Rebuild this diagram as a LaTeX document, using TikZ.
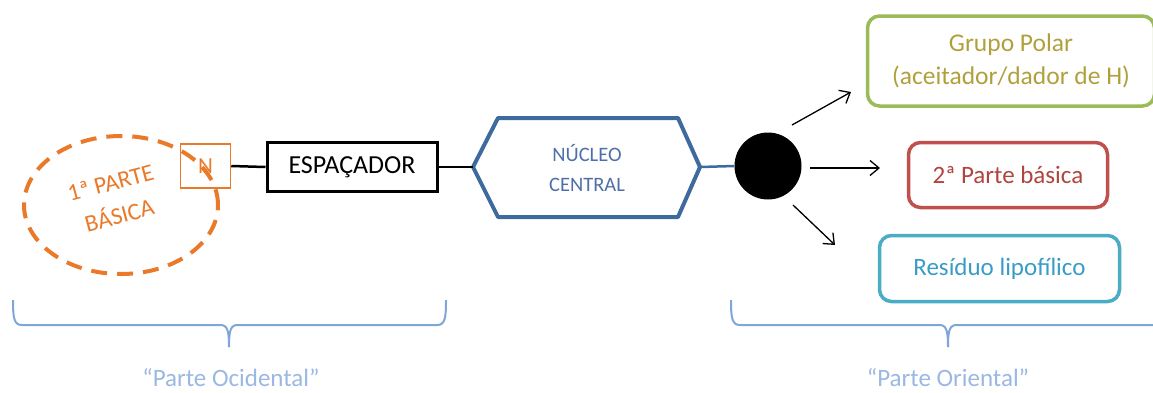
\documentclass[tikz,border=0pt]{standalone}
\usepackage{fontspec}
\setmainfont{Carlito}
\usetikzlibrary{shapes.geometric,arrows.meta}
\definecolor{orng}{HTML}{E97A2A}
\definecolor{hexblue}{HTML}{3F6A9E}
\definecolor{hextext}{HTML}{4E6FA8}
\definecolor{grn}{HTML}{9BBB59}
\definecolor{grntext}{HTML}{B0A03C}
\definecolor{rd}{HTML}{C0504D}
\definecolor{rdtext}{HTML}{B0443F}
\definecolor{cyn}{HTML}{4BACC6}
\definecolor{cyntext}{HTML}{3A9CC4}
\definecolor{brc}{HTML}{7FA6D6}
\definecolor{brctext}{HTML}{9AB8E2}
\tikzset{
  lbl/.style={font=\fontsize{25}{31}\selectfont, align=center, inner sep=0pt},
  roundbox/.style={draw, line width=3.5pt, rounded corners=12pt, inner sep=0pt},
  link/.style={line width=2.5pt},
  ray/.style={line width=1.3pt, -{Straight Barb[length=9pt,width=15pt,line width=1.3pt]}},
  bracket/.style={draw=brc, line width=2pt},
}
\begin{document}
\begin{tikzpicture}[x=1pt,y=-1pt]
\useasboundingbox (0,0) rectangle (1153,392);
\clip (0,0) rectangle (1153,392);

% first basic part: dashed ellipse with its nitrogen
\node[ellipse, draw=orng, dash pattern=on 16pt off 10pt, line width=4pt,
      minimum width=194pt, minimum height=138pt] (base1) at (121,205) {};
\node[lbl, text=orng, rotate=15, font=\fontsize{24}{34}\selectfont] (base1txt) at (115,199) {1ª PARTE\\BÁSICA};
\node[draw=orng, line width=1.5pt, minimum width=50pt, minimum height=44pt,
      inner sep=0pt, lbl, text=orng, font=\fontsize{23}{26}\selectfont] (N) at (205.5,166) {N};

% spacer
\node[draw=black, line width=3pt, minimum width=170pt, minimum height=49pt,
      inner sep=0pt, lbl, font=\fontsize{26}{30}\selectfont] (esp) at (352,167) {ESPAÇADOR};

% central core (hexagon)
\coordinate (hexL) at (473,167);
\coordinate (hexR) at (700,167);
\draw[hexblue, line width=4pt, line join=round]
  (hexL) -- (498,118) -- (678,118) -- (hexR) -- (678,217) -- (498,217) -- cycle;
\node[lbl, text=hextext, font=\fontsize{20.5}{30}\selectfont] (core) at (587,168) {NÚCLEO\\CENTRAL};

% branching point
\node[circle, fill=black, minimum size=67pt, inner sep=0pt] (dot) at (768,166) {};

% right-hand groups
\node[roundbox, draw=grn, text=grntext, lbl, font=\fontsize{25.5}{33}\selectfont,
      minimum width=287pt, minimum height=90pt]
  (polar) at (1011,61) {Grupo Polar\\(aceitador/dador de H)};
\node[roundbox, draw=rd, text=rdtext, lbl, minimum width=199pt, minimum height=65pt]
  (base2) at (1008,175) {2ª Parte básica};
\node[roundbox, draw=cyn, text=cyntext, lbl, minimum width=240pt, minimum height=66pt]
  (lipo) at (999.5,268.5) {Resíduo lipofílico};

% connectors
\draw[link] (N.east) -- (esp.west);
\draw[link] (esp.east) -- (hexL);
\draw[link, hexblue] (hexR) -- (dot.west);

\coordinate (r1s) at (792,125); \coordinate (r1e) at (851,92);
\coordinate (r2s) at (810,168); \coordinate (r2e) at (880,168);
\coordinate (r3s) at (793,205); \coordinate (r3e) at (835,245);
\draw[ray] (r1s) -- (r1e);
\draw[ray] (r2s) -- (r2e);
\draw[ray] (r3s) -- (r3e);

% brackets under the two halves
\coordinate (tipW) at (229,347);
\draw[bracket] (13,300) .. controls (13,318) and (14,325) .. (22,325) -- (220,325)
  .. controls (227,325) and (229,329) .. (tipW);
\draw[bracket] (446,300) .. controls (446,318) and (445,325) .. (437,325) -- (238,325)
  .. controls (231,325) and (229,329) .. (tipW);
\coordinate (tipE) at (948,347);
\draw[bracket] (731,300) .. controls (731,318) and (732,325) .. (740,325) -- (939,325)
  .. controls (946,325) and (948,329) .. (tipE);
\draw[bracket] (1165,300) .. controls (1165,318) and (1164,325) .. (1156,325) -- (957,325)
  .. controls (950,325) and (948,329) .. (tipE);

\node[lbl, text=brctext, font=\fontsize{25}{30}\selectfont] (west) at (231,378) {“Parte Ocidental”};
\node[lbl, text=brctext, font=\fontsize{25}{30}\selectfont] (east) at (948,378) {“Parte Oriental”};
\end{tikzpicture}
\end{document}
